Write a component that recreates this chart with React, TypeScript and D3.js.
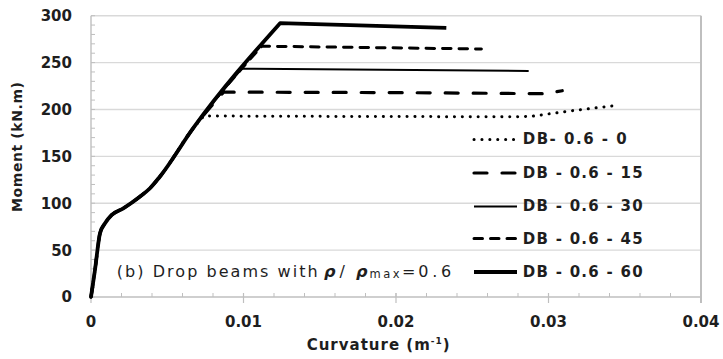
import React from "react";
import * as d3 from "d3";

// Shared ascending branch of the moment–curvature response (curvature in 1/m, moment in kN.m)
const ascentCurvature = [0, 0.00026, 0.00059, 0.00092, 0.00136, 0.00212, 0.0032, 0.00387, 0.0045, 0.0067, 0.0124];
const ascentMoment = [0, 28.8, 68, 78.6, 87.5, 94.6, 107, 116, 128, 180, 292];

// Post-yield branches of each drop beam
const db0Curvature = [0.0074, 0.018, 0.028, 0.029, 0.0316, 0.0343];
const db0Moment = [193, 192.5, 192.2, 193, 198.8, 204];
const db15Curvature = [0.0087, 0.02, 0.0298, 0.0309];
const db15Moment = [218.5, 218, 216.8, 220];
const db30Curvature = [0.0099, 0.0287];
const db30Moment = [243.5, 241];
const db45Curvature = [0.0112, 0.0256];
const db45Moment = [267.5, 264.5];
const db60Curvature = [0.0124, 0.0233];
const db60Moment = [292, 287];

const seriesNames = ["DB- 0.6 - 0", "DB - 0.6 - 15", "DB - 0.6 - 30", "DB - 0.6 - 45", "DB - 0.6 - 60"];
const xTicks = [0, 0.01, 0.02, 0.03, 0.04];
const xTickLabels = ["0", "0.01", "0.02", "0.03", "0.04"];
const yTicks = [0, 50, 100, 150, 200, 250, 300];

type Style = { width: number; dash?: string; cap: "round" | "butt" };
const styles: Style[] = [
  { width: 3, dash: "0.1 7.8", cap: "round" },
  { width: 3.2, dash: "13 15", cap: "round" },
  { width: 2, cap: "butt" },
  { width: 3, dash: "8.5 8", cap: "round" },
  { width: 3.8, cap: "butt" },
];

type Pt = [number, number];

// Ascending part up to the yield point, then the post-yield branch
function buildSeries(curv: number[], mom: number[]): { rise: Pt[]; post: Pt[] } {
  const yieldMoment = mom[0];
  const rise: Pt[] = [];
  ascentCurvature.forEach((c, i) => {
    if (ascentMoment[i] < yieldMoment) rise.push([c, ascentMoment[i]]);
  });
  rise.push([curv[0], mom[0]]);
  const post: Pt[] = curv.map((c, i) => [c, mom[i]]);
  return { rise, post };
}

export default function App() {
  const W = 723;
  const H = 359;
  const x = d3.scaleLinear().domain([0, 0.04]).range([91, 701]);
  const y = d3.scaleLinear().domain([0, 300]).range([297, 15.7]);
  const riseLine = d3
    .line<Pt>()
    .x((d) => x(d[0]))
    .y((d) => y(d[1]))
    .curve(d3.curveMonotoneX);
  const postLine = d3
    .line<Pt>()
    .x((d) => x(d[0]))
    .y((d) => y(d[1]));

  const series = [
    buildSeries(db0Curvature, db0Moment),
    buildSeries(db15Curvature, db15Moment),
    buildSeries(db30Curvature, db30Moment),
    buildSeries(db45Curvature, db45Moment),
    buildSeries(db60Curvature, db60Moment),
  ];

  const minorY = d3.range(0, 301, 10);
  const minorX = d3.range(0, 0.0401, 0.002);
  const grid = "#d9d9d9";
  const axis = "#bfbfbf";
  const text = "#1e1e1e";
  const font = "'DejaVu Sans', Verdana, sans-serif";

  const legendY = [139.5, 173, 206.5, 238.5, 272];
  const legendBase = [144.3, 177.5, 210.5, 243.5, 276.5];
  const legendWidths = [104, 120, 120, 120, 120];

  return (
    <div style={{ position: "fixed", left: 0, top: 0 }}>
      <svg width={W} height={H} style={{ display: "block", background: "#fff" }} fontFamily={font}>
        {/* gridlines */}
        {yTicks.slice(1).map((t) => (
          <line key={"g" + t} x1={x(0)} x2={x(0.04)} y1={y(t)} y2={y(t)} stroke={grid} strokeWidth={1.4} />
        ))}
        {/* axes */}
        <line x1={x(0)} x2={x(0)} y1={y(300)} y2={y(0)} stroke={axis} strokeWidth={1.4} />
        <line x1={x(0)} x2={x(0.04)} y1={y(0)} y2={y(0)} stroke={axis} strokeWidth={1.4} />
        <line x1={x(0.04)} x2={x(0.04)} y1={y(300)} y2={y(0) + 6} stroke={axis} strokeWidth={2} />
        {minorY.map((t) => (
          <line key={"my" + t} x1={x(0)} x2={x(0) + 4} y1={y(t)} y2={y(t)} stroke={axis} strokeWidth={1} />
        ))}
        {minorX.map((t) => (
          <line key={"mx" + t} x1={x(t)} x2={x(t)} y1={y(0) - 4} y2={y(0)} stroke={axis} strokeWidth={1} />
        ))}
        {xTicks.map((t) => (
          <line key={"tx" + t} x1={x(t)} x2={x(t)} y1={y(0) - 4} y2={y(0) + 6} stroke={axis} strokeWidth={1.2} />
        ))}

        {/* tick labels */}
        {yTicks.map((t) => (
          <text key={"yl" + t} x={72} y={y(t)} dy="0.36em" textAnchor="end" fontSize={15} fontWeight="bold" fill={text}>
            {t}
          </text>
        ))}
        {xTicks.map((t, i) => (
          <text key={"xl" + t} x={x(t)} y={326.7} textAnchor="middle" fontSize={15} fontWeight="bold" fill={text}>
            {xTickLabels[i]}
          </text>
        ))}

        {/* axis titles */}
        <text
          transform="translate(22,147) rotate(-90)"
          textAnchor="middle"
          fontSize={14}
          fontWeight="bold"
          fill={text}
          textLength={130}
          lengthAdjust="spacing"
        >
          Moment (kN.m)
        </text>
        <text x={306.7} y={350} fontSize={15} fontWeight="bold" fill={text} letterSpacing={1}>
          <tspan>Curvature (m</tspan>
          <tspan fontSize={9} dy={-6}>-1</tspan>
          <tspan dy={6}>)</tspan>
        </text>

        {/* curves */}
        {series.map((s, i) => (
          <path
            key={"s" + i}
            d={(riseLine(s.rise) || "") + (postLine(s.post) || "").replace(/^M/, "L")}
            fill="none"
            stroke="#000"
            strokeWidth={styles[i].width}
            strokeDasharray={styles[i].dash}
            strokeLinecap={styles[i].cap}
            strokeLinejoin="round"
          />
        ))}

        {/* legend */}
        {seriesNames.map((name, i) => (
          <g key={"lg" + i}>
            <line
              x1={474}
              x2={517}
              y1={legendY[i]}
              y2={legendY[i]}
              stroke="#000"
              strokeWidth={styles[i].width}
              strokeDasharray={styles[i].dash}
              strokeLinecap={styles[i].cap}
            />
            <text
              x={522.7}
              y={legendBase[i]}
              fontSize={15}
              fontWeight="bold"
              fill={text}
              textLength={legendWidths[i]}
              lengthAdjust="spacing"
            >
              {name}
            </text>
          </g>
        ))}

        {/* annotation */}
        <text x={116.7} y={276.6} fontSize={16} fill={text} textLength={201} lengthAdjust="spacing">
          (b) Drop beams with
        </text>
        <text y={276.6} fontSize={16} fill={text}>
          <tspan x={324} fontWeight="bold" fontStyle="italic">ρ</tspan>
          <tspan x={339.5}>/</tspan>
          <tspan x={356} fontWeight="bold" fontStyle="italic">ρ</tspan>
        </text>
        <text x={369.5} y={277.6} fontSize={11.5} fill={text} textLength={30} lengthAdjust="spacing">
          max
        </text>
        <text x={402} y={276.6} fontSize={16} fill={text}>
          =
        </text>
        <text x={418.3} y={276.6} fontSize={16} fill={text} textLength={33} lengthAdjust="spacing">
          0.6
        </text>
      </svg>
    </div>
  );
}
